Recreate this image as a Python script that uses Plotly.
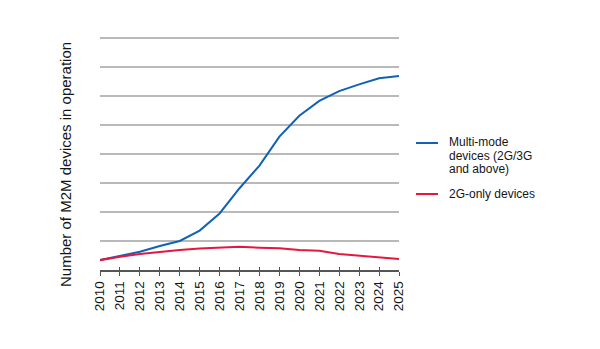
import plotly.graph_objects as go

years = list(range(2010, 2026))
multi_mode = [0.34, 0.48, 0.63, 0.83, 1.00, 1.36, 1.95, 2.82, 3.60, 4.60,
              5.32, 5.83, 6.17, 6.40, 6.61, 6.69]
g2_only = [0.34, 0.46, 0.55, 0.63, 0.69, 0.74, 0.78, 0.80, 0.77, 0.75,
           0.69, 0.66, 0.55, 0.49, 0.44, 0.38]
series_names = ["Multi-mode<br>devices (2G/3G<br>and above)", "2G-only devices"]
series_colors = ["#0f62b6", "#e5173f"]
y_title = "Number of M2M devices in operation"

W, H = 600, 349
L, R, T, B = 100, 201, 35, 79
PW, PH = W - L - R, H - T - B
Y_TOP = PH / 29.0  # 29 px per unit, leaves room for the top gridline


def px_x(x):
    return (x - L) / PW


def px_y(y):
    return (H - B - y) / PH


FONT = "Liberation Sans, Arial, sans-serif"
TEXT = "#151515"

fig = go.Figure()
for vals, name, col in zip([multi_mode, g2_only], series_names, series_colors):
    fig.add_trace(go.Scatter(x=years, y=vals, mode="lines", name=name,
                             line=dict(color=col, width=2), showlegend=False,
                             cliponaxis=False))

# second x axis carries the upward half of the tick marks
fig.add_trace(go.Scatter(x=years, y=[None] * len(years), xaxis="x2",
                         showlegend=False, hoverinfo="skip"))

fig.update_layout(
    width=W, height=H,
    margin=dict(l=L, r=R, t=T, b=B),
    paper_bgcolor="white", plot_bgcolor="white",
    font=dict(family=FONT, color=TEXT),
    xaxis=dict(range=[2010, 2025], tickvals=years, ticktext=[str(y) for y in years],
               tickangle=-90, ticks="outside", ticklen=4, tickwidth=1.2,
               tickcolor="#555555", showline=True, linecolor="#555555",
               linewidth=1.5, showgrid=False, zeroline=False,
               tickfont=dict(size=13.5, color=TEXT, family=FONT)),
    xaxis2=dict(range=[2010, 2025], overlaying="x", tickvals=years,
                ticks="inside", ticklen=3, tickwidth=1.2, tickcolor="#555555",
                showticklabels=False, showgrid=False, zeroline=False,
                showline=False, side="bottom", anchor="y"),
    yaxis=dict(range=[0, Y_TOP], tickvals=[1, 2, 3, 4, 5, 6, 7, 8],
               showticklabels=False, ticks="",
               showgrid=True, gridcolor="#b9b9b9", gridwidth=1.5,
               zeroline=False, showline=False),
)

annotations = [dict(text=y_title, x=px_x(65), y=px_y(165), xref="paper", yref="paper",
                    textangle=-90, showarrow=False, xanchor="center", yanchor="middle",
                    font=dict(size=15, color=TEXT, family=FONT))]
shapes = []

# legend: short line sample followed by the (wrapped) series name
legend_rows = [(143, 142, ["Multi-mode", "devices (2G/3G", "and above)"], series_colors[0]),
               (194, 194, ["2G-only devices"], series_colors[1])]
for y_line, y_text, lines, col in legend_rows:
    shapes.append(dict(type="line", xref="paper", yref="paper",
                       x0=px_x(416), x1=px_x(438), y0=px_y(y_line), y1=px_y(y_line),
                       line=dict(color=col, width=2)))
    for i, t in enumerate(lines):
        annotations.append(dict(text=t, x=px_x(447), y=px_y(y_text + i * 13.5),
                                xref="paper", yref="paper", showarrow=False,
                                xanchor="left", yanchor="middle",
                                font=dict(size=12, color=TEXT, family=FONT)))

fig.update_layout(annotations=annotations, shapes=shapes)
fig.write_html("out.html")
